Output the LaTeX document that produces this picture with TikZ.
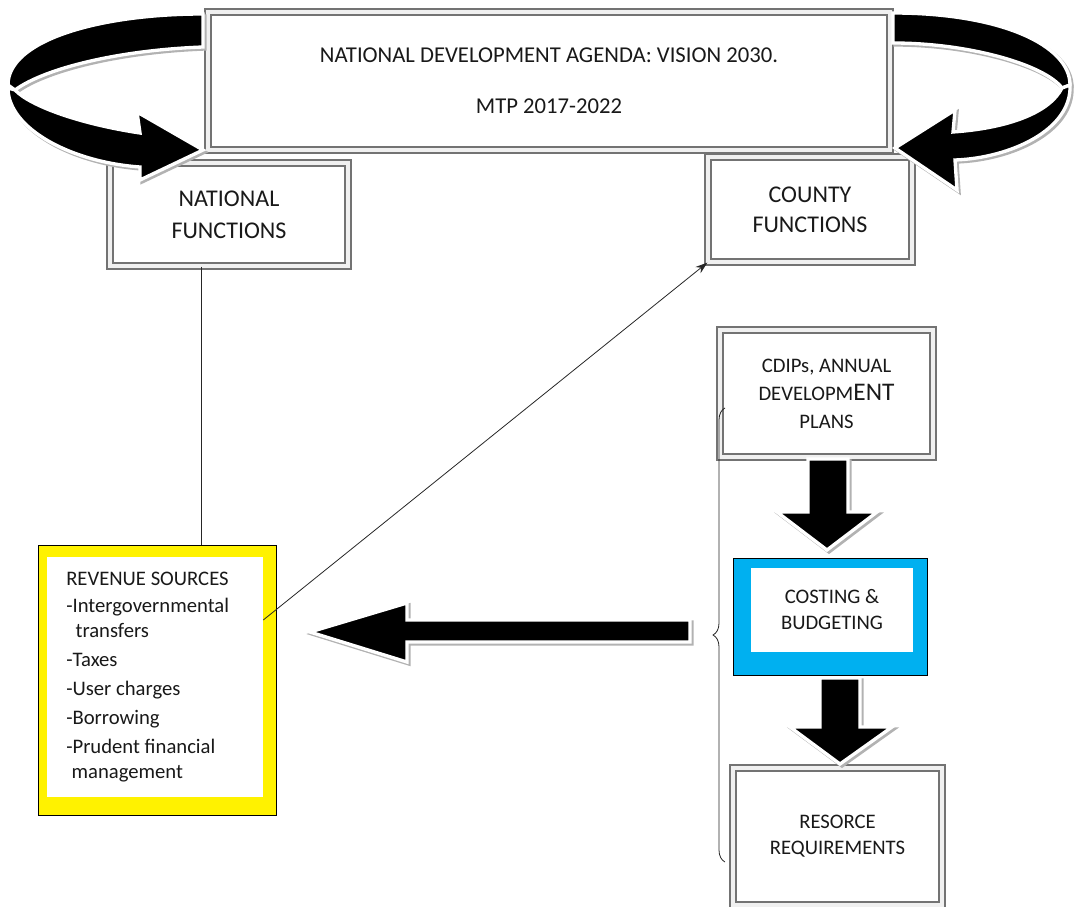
\documentclass[tikz,border=0pt]{standalone}
\usepackage{fontspec}
\setmainfont{Carlito}
\usepackage{tikz}
\usetikzlibrary{arrows.meta}
\usetikzlibrary{decorations.pathreplacing}
\tikzset{>=Stealth}
\definecolor{skyblue}{HTML}{00B0F0}
\tikzset{
  box/.style={draw=black!55, double=gray!12, double distance=3.5pt, line width=.9pt,
    fill=white, align=center, inner sep=0pt, text=black!90},
  blockarrow/.style={fill=black, draw=white, line width=2.5pt, line join=miter},
  blockshadow/.style={fill=gray!60, draw=gray!60, line width=2.5pt, line join=miter, shift={(2,2)}},
  thinline/.style={line width=.6pt, black!85},
}

\begin{document}
\begin{tikzpicture}[x=.75pt,y=-.75pt]
  \useasboundingbox (0,0) rectangle (1077,906);
  % framed boxes
  \node[box, minimum width=511.5pt, minimum height=103.5pt, font=\fontsize{17}{38}\selectfont]
    (agenda) at (549,81) {NATIONAL DEVELOPMENT AGENDA: VISION 2030.\\MTP 2017-2022};
  \node[box, minimum width=178.5pt, minimum height=77.25pt, font=\fontsize{18}{24}\selectfont]
    (natl) at (229,214.5) {NATIONAL\\FUNCTIONS};
  \node[box, minimum width=153pt, minimum height=78.75pt, font=\fontsize{18}{22.5}\selectfont]
    (county) at (810,209.5) {COUNTY\\FUNCTIONS};
  \node[box, minimum width=159.75pt, minimum height=95.25pt, font=\fontsize{15.5}{21}\selectfont]
    (cdip) at (826.5,393.5) {CDIPs, ANNUAL\\DEVELOPM{\fontsize{19}{21}\selectfont ENT}\\PLANS};
  \node[box, minimum width=156.75pt, minimum height=102.75pt, font=\fontsize{15.5}{19.5}\selectfont]
    (res) at (837.5,836.5) {RESORCE\\REQUIREMENTS};
  % costing box
  \node[draw=black, line width=.6pt, fill=skyblue, minimum width=145.5pt, minimum height=87.75pt, inner sep=0pt]
    (cost) at (830,616.5) {};
  \node[fill=white, minimum width=121.5pt, minimum height=63pt, inner sep=0pt, align=center,
    font=\fontsize{15.5}{19.5}\selectfont, text=black!90]
    (costin) at (832,610) {COSTING \&\\BUDGETING};
  % revenue box
  \node[draw=black, line width=.6pt, fill=yellow, minimum width=178.5pt, minimum height=202.5pt, inner sep=0pt]
    (revbox) at (157,680) {};
  \node[fill=white, minimum width=162pt, minimum height=180pt, inner sep=0pt]
    (rev) at (155,677) {};
  \node[anchor=north west, align=left, inner sep=0pt, text=black!90,
    font=\fontsize{15.5}{18.75}\selectfont]
    (revtext) at (66,572) {REVENUE SOURCES\\[1.5pt]
      -Intergovernmental\\
      \hspace{7pt}transfers\\[3pt]
      -Taxes\\[3pt]
      -User charges\\[3pt]
      -Borrowing\\[3pt]
      -Prudent financial\\
      \hspace{4pt}management};
  % connectors
  \coordinate (linex) at (201,0);
  \draw[thinline] (natl.south -| linex) -- (revbox.north -| linex);
  \draw[thinline, -{Stealth[length=9pt,width=6pt]}] ([yshift=42.75pt]rev.east) -- (county.south west);
  % block arrows
  \foreach \s in {blockshadow,blockarrow} {
    \draw[\s] (203,14) .. controls (100,14) and (8,40) .. (8,85) -- (15,90)
      .. controls (45,68) and (120,50) .. (203,47) -- cycle;
    \draw[\s] (8,88) .. controls (8,128) and (70,162) .. (140,167) -- (140,180) -- (203,150)
      -- (137,112) -- (140,133) .. controls (80,124) and (30,106) .. (15,90) -- cycle;
    \draw[\s] (893,13) .. controls (1000,13) and (1070,45) .. (1070,85) -- (1062,88)
      .. controls (1045,65) and (970,43) .. (893,43) -- cycle;
    \draw[\s] (1070,85) .. controls (1072,130) and (1010,158) .. (955,160) -- (957,190) -- (895,148)
      -- (955,110) -- (953,132) .. controls (1010,128) and (1050,112) .. (1062,88) -- cycle;
    \draw[\s] (690,620) -- (407,620) -- (407,603) -- (310,632) -- (407,662) -- (407,642) -- (690,642) -- cycle;
    \draw[\s] (808,459) -- (848,459) -- (848,512) -- (877,512) -- (827,550) -- (777,512) -- (808,512) -- cycle;
    \draw[\s] (820,678) -- (860,678) -- (860,727) -- (892,727) -- (840,764) -- (790,727) -- (820,727) -- cycle;
  }
  % brace
  \draw[thinline, decorate, decoration={brace, amplitude=9pt, aspect=.5}] (725,862) -- (725,408);
\end{tikzpicture}
\end{document}
